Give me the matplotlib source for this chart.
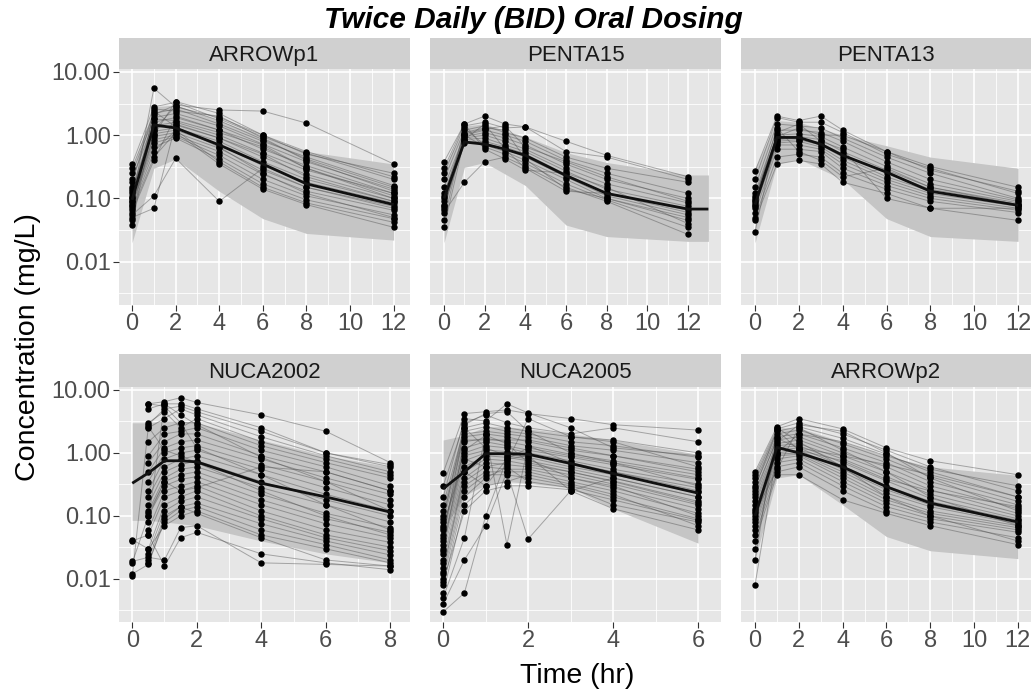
import numpy as np
import matplotlib
matplotlib.use("Agg")
import matplotlib.pyplot as plt
from matplotlib.ticker import FixedLocator, NullFormatter

nan = float("nan")

# ---------------- data ----------------
panel_names = ["ARROWp1", "PENTA15", "PENTA13", "NUCA2002", "NUCA2005", "ARROWp2"]

# ARROWp1
arrowp1_times = [0, 1, 2, 4, 6, 8, 12]
arrowp1_conc = [
    [0.10, 2.10, 3.00, 2.50, 2.40, 1.55, 0.35],
    [0.09, 5.50, 2.80, 1.90, 1.00, 0.50, 0.25],
    [0.35, 2.80, 3.30, 1.80, 0.95, 0.52, 0.20],
    [0.30, 2.20, 2.60, 1.50, 0.80, 0.45, 0.16],
    [0.25, 1.90, 2.20, 1.40, 0.72, 0.38, 0.14],
    [0.20, 1.60, 1.90, 1.20, 0.60, 0.33, 0.12],
    [0.15, 1.40, 1.60, 1.00, 0.52, 0.28, 0.12],
    [0.13, 1.30, 1.45, 0.90, 0.45, 0.24, 0.10],
    [0.12, 1.15, 1.30, 0.80, 0.38, 0.20, 0.09],
    [0.11, 1.05, 1.20, 0.70, 0.33, 0.18, 0.085],
    [0.10, 0.95, 1.10, 0.62, 0.28, 0.15, 0.075],
    [0.09, 0.85, 1.00, 0.55, 0.24, 0.13, 0.065],
    [0.085, 0.75, 0.95, 0.48, 0.20, 0.11, 0.055],
    [0.08, 0.65, 0.90, 0.42, 0.17, 0.095, 0.048],
    [0.07, 0.55, 1.20, 0.38, 0.15, 0.085, 0.042],
    [0.065, 0.45, 1.10, 0.35, 0.14, 0.08, 0.035],
    [0.06, 0.40, 2.00, 1.20, 0.70, 0.30, 0.11],
    [0.055, 0.11, 0.43, 0.09, 0.30, 0.15, 0.07],
    [0.05, 0.07, 1.50, 0.90, 0.50, 0.22, 0.09],
    [0.045, 2.60, 2.40, 2.00, 0.90, 0.40, 0.13],
    [0.038, 1.80, 1.70, 1.10, 0.65, 0.30, 0.10],
    [0.14, 1.20, 2.90, 1.70, 0.85, 0.42, 0.15],
    [0.18, 2.40, 1.35, 0.65, 0.25, 0.12, 0.05],
    [0.075, 1.00, 3.40, 2.20, 1.00, 0.55, 0.22],
]
arrowp1_med_t = [0, 1, 2, 4, 6, 8, 12]
arrowp1_med = [0.095, 1.45, 1.30, 0.70, 0.35, 0.17, 0.08]
arrowp1_band_t = [0, 1, 2, 4, 6, 8, 12]
arrowp1_lo = [0.02, 0.30, 0.42, 0.13, 0.048, 0.028, 0.022]
arrowp1_hi = [0.30, 2.80, 3.00, 1.70, 0.95, 0.55, 0.35]

# PENTA15
penta15_times = [0, 1, 2, 3, 4, 6, 8, 12]
penta15_conc = [
    [0.38, 1.50, 2.00, 1.50, 1.35, 0.80, 0.48, 0.22],
    [0.25, 1.40, 1.60, 1.30, 1.35, 0.55, 0.45, 0.20],
    [0.20, 1.20, 1.40, 1.10, 0.90, 0.45, 0.30, 0.18],
    [0.15, 1.00, 1.20, 1.00, 0.80, 0.40, 0.25, 0.12],
    [0.12, 0.95, 1.10, 0.90, 0.70, 0.35, 0.20, 0.10],
    [0.10, 0.90, 1.00, 0.80, 0.60, 0.30, 0.17, 0.085],
    [0.09, 0.85, 0.90, 0.70, 0.55, 0.27, 0.14, 0.075],
    [0.08, 0.80, 0.80, 0.65, 0.50, 0.24, 0.12, 0.065],
    [0.075, 0.75, 0.75, 0.60, 0.45, 0.22, 0.11, 0.055],
    [0.07, 1.30, 0.70, 0.55, 0.40, 0.20, 0.10, 0.045],
    [0.065, 1.00, 0.65, 0.50, 0.36, 0.17, 0.095, 0.035],
    [0.06, 0.18, 0.38, 0.45, 0.32, 0.15, 0.09, 0.027],
    [0.045, 1.10, 1.30, 1.20, 0.42, 0.14, 0.10, 0.05],
    [0.035, 0.85, 1.50, 0.60, 0.30, 0.13, 0.12, 0.06],
    [0.30, 1.50, 0.60, 0.42, 0.28, 0.25, 0.15, 0.04],
    [0.11, 1.05, 1.25, 1.40, 0.65, 0.38, 0.22, 0.09],
]
penta15_med_t = [0, 1, 2, 3, 4, 6, 8, 12, 13]
penta15_med = [0.10, 0.78, 0.72, 0.60, 0.48, 0.23, 0.12, 0.068, 0.068]
penta15_band_t = [0, 1, 2, 4, 6, 8, 12, 13]
penta15_lo = [0.02, 0.31, 0.37, 0.16, 0.038, 0.025, 0.021, 0.021]
penta15_hi = [0.30, 1.40, 1.50, 0.94, 0.53, 0.37, 0.235, 0.235]

# PENTA13
penta13_times = [0, 1, 2, 3, 4, 6, 8, 12]
penta13_conc = [
    [0.27, 2.00, 1.70, 2.00, 1.20, 0.55, 0.32, 0.15],
    [0.20, 1.90, 1.60, 1.60, 1.10, 0.50, 0.30, 0.12],
    [0.15, 1.50, 1.40, 1.30, 0.90, 0.45, 0.25, 0.10],
    [0.12, 1.20, 1.20, 1.10, 0.80, 0.38, 0.20, 0.095],
    [0.10, 1.00, 1.05, 0.95, 0.65, 0.32, 0.17, 0.09],
    [0.09, 0.90, 0.95, 0.85, 0.55, 0.28, 0.15, 0.085],
    [0.085, 0.85, 0.90, 0.75, 0.50, 0.25, 0.14, 0.08],
    [0.08, 0.80, 0.85, 0.70, 0.45, 0.22, 0.13, 0.078],
    [0.075, 0.75, 0.80, 0.65, 0.40, 0.20, 0.12, 0.075],
    [0.07, 0.70, 0.70, 0.60, 0.35, 0.18, 0.11, 0.07],
    [0.06, 0.60, 0.60, 0.55, 0.30, 0.16, 0.10, 0.065],
    [0.05, 0.45, 0.50, 0.45, 0.25, 0.14, 0.09, 0.06],
    [0.045, 0.35, 0.40, 0.35, 0.18, 0.12, 0.07, 0.045],
    [0.03, 1.10, 1.50, 0.80, 0.60, 0.10, 0.07, 0.07],
    [0.11, 0.95, 1.30, 1.00, 1.00, 0.55, 0.28, 0.13],
    [0.095, 1.30, 0.55, 0.40, 0.22, 0.30, 0.15, 0.08],
]
penta13_med_t = [0, 1, 2, 3, 4, 6, 8, 12]
penta13_med = [0.08, 0.92, 0.92, 0.72, 0.48, 0.26, 0.13, 0.078]
penta13_band_t = [0, 1, 2, 4, 6, 8, 12]
penta13_lo = [0.02, 0.35, 0.42, 0.20, 0.048, 0.025, 0.021]
penta13_hi = [0.30, 1.70, 1.60, 1.00, 0.68, 0.45, 0.30]

# NUCA2002
nuca2002_times = [0, 0.5, 1, 1.5, 2, 4, 6, 8]
nuca2002_conc = [
    [nan, 6.0, 6.5, 7.5, 6.3, 4.0, 2.2, 0.70],
    [nan, 5.0, 6.0, 6.0, 5.0, 2.5, 1.0, 0.65],
    [nan, 2.8, 5.0, 5.5, 4.5, 2.2, 1.0, 0.60],
    [nan, 2.5, 3.5, 5.0, 4.0, 1.8, 0.90, 0.50],
    [nan, 3.0, 4.5, 2.5, 3.5, 1.5, 0.80, 0.45],
    [nan, 1.5, 2.5, 3.0, 3.0, 1.3, 0.70, 0.40],
    [nan, 0.9, 2.0, 2.2, 2.5, 1.1, 0.60, 0.30],
    [nan, 0.7, 1.5, 2.0, 2.0, 0.90, 0.50, 0.25],
    [nan, 0.5, 1.2, 1.5, 1.6, 0.80, 0.40, 0.22],
    [nan, 0.35, 1.0, 1.2, 1.3, 0.65, 0.35, 0.18],
    [nan, 0.25, 0.80, 1.0, 1.1, 0.55, 0.28, 0.15],
    [nan, 0.20, 0.60, 0.80, 0.90, 0.45, 0.22, 0.12],
    [nan, 0.15, 0.50, 0.65, 0.75, 0.35, 0.18, 0.10],
    [nan, 0.12, 0.40, 0.55, 0.60, 0.28, 0.15, 0.08],
    [nan, 0.11, 0.35, 0.45, 0.50, 0.22, 0.11, 0.065],
    [nan, 0.10, 0.30, 0.38, 0.42, 0.18, 0.09, 0.055],
    [nan, 0.06, 0.25, 0.30, 0.35, 0.15, 0.075, 0.045],
    [nan, 0.05, 0.20, 0.25, 0.30, 0.12, 0.06, 0.038],
    [nan, 0.03, 0.15, 0.20, 0.25, 0.10, 0.05, 0.032],
    [nan, 0.025, 0.12, 0.17, 0.20, 0.09, 0.045, 0.028],
    [nan, 0.02, 0.10, 0.14, 0.16, 0.075, 0.04, 0.024],
    [nan, 0.018, 0.08, 0.12, 0.14, 0.06, 0.035, 0.02],
    [0.042, 0.03, 0.07, 0.10, 0.12, 0.05, 0.03, 0.018],
    [0.040, 0.05, 0.016, 0.045, 0.055, 0.025, 0.018, 0.014],
    [0.019, 0.022, 0.020, 0.065, 0.07, 0.018, 0.017, 0.016],
    [0.018, 0.10, 0.35, 0.25, 0.28, 0.60, 0.50, 0.25],
    [0.012, 0.017, 0.09, 0.14, 0.11, 0.045, 0.02, 0.016],
    [0.011, 2.6, 1.1, 0.9, 0.7, 0.25, 0.10, 0.05],
    [nan, 6.0, 5.5, 3.0, 1.2, 0.45, 0.15, 0.06],
    [nan, 0.08, 6.0, 4.0, 2.8, 0.85, 0.35, 0.12],
]
nuca2002_med_t = [0, 0.5, 1, 1.5, 2, 4, 6, 8]
nuca2002_med = [0.33, 0.48, 0.75, 0.75, 0.72, 0.33, 0.20, 0.115]
nuca2002_band_t = [0, 0.5, 1, 1.5, 2, 4, 6, 8]
nuca2002_lo = [0.085, 0.085, 0.08, 0.075, 0.07, 0.04, 0.025, 0.018]
nuca2002_hi = [3.0, 3.0, 3.2, 3.2, 3.0, 1.6, 0.9, 0.6]

# NUCA2005
nuca2005_times = [0, 0.5, 1, 1.5, 2, 3, 4, 6]
nuca2005_conc = [
    [0.48, 4.2, 4.5, 4.8, 4.2, 3.5, 2.8, 2.3],
    [0.30, 3.0, 4.0, 3.0, 2.5, 2.0, 2.5, 1.5],
    [0.15, 2.5, 3.0, 2.5, 2.2, 1.8, 1.6, 1.0],
    [0.12, 2.2, 2.6, 2.2, 2.0, 1.5, 1.3, 0.85],
    [0.10, 2.0, 2.2, 2.0, 1.8, 1.3, 1.1, 0.70],
    [0.08, 1.8, 2.0, 1.8, 1.5, 1.1, 0.90, 0.55],
    [0.06, 1.5, 1.7, 1.5, 1.3, 0.95, 0.75, 0.45],
    [0.05, 1.2, 1.5, 1.3, 1.1, 0.85, 0.65, 0.38],
    [0.04, 1.0, 1.3, 1.2, 1.0, 0.75, 0.55, 0.32],
    [0.035, 0.9, 1.1, 1.05, 0.95, 0.65, 0.50, 0.28],
    [0.03, 0.75, 1.0, 0.95, 0.85, 0.60, 0.45, 0.24],
    [0.025, 0.6, 0.9, 0.85, 0.75, 0.55, 0.40, 0.20],
    [0.02, 0.5, 0.8, 0.75, 0.65, 0.50, 0.36, 0.17],
    [0.018, 0.4, 0.7, 0.65, 0.60, 0.45, 0.32, 0.15],
    [0.015, 0.35, 0.6, 0.55, 0.55, 0.40, 0.28, 0.13],
    [0.012, 0.3, 0.5, 0.50, 0.50, 0.35, 0.25, 0.11],
    [0.01, 0.25, 0.45, 0.45, 0.40, 0.30, 0.20, 0.09],
    [0.008, 0.2, 0.4, 0.60, 0.35, 0.28, 0.15, 0.08],
    [0.006, 0.15, 0.3, 0.80, 0.90, 0.25, 0.13, 0.06],
    [0.005, 0.045, 2.0, 0.035, 1.3, 0.70, 0.50, 0.25],
    [0.004, 0.02, 0.07, 0.5, 0.043, 0.25, 0.40, 0.20],
    [0.003, 0.006, 0.1, 0.8, 1.2, 0.9, 0.7, 0.4],
    [0.2, 3.5, 3.2, 6.0, 4.3, 2.5, 1.2, 0.9],
    [0.09, 2.8, 4.2, 4.5, 2.2, 1.0, 0.7, 0.3],
    [0.07, 0.8, 0.6, 0.7, 3.5, 1.8, 1.5, 0.6],
    [0.045, 2.5, 1.2, 0.9, 0.8, 0.4, 0.3, 0.1],
    [0.028, 1.6, 1.6, 1.6, 1.6, 1.2, 0.9, 0.5],
    [0.013, 0.5, 0.3, 0.35, 0.45, 0.32, 0.22, 0.07],
    [0.009, 0.12, 0.25, 0.3, 0.3, 0.26, 0.18, 0.085],
    [0.065, 1.1, 1.9, 1.4, 0.7, 0.5, 0.35, 0.16],
]
nuca2005_med_t = [0, 0.5, 1, 1.5, 2, 3, 4, 6]
nuca2005_med = [0.27, 0.50, 0.97, 0.97, 0.95, 0.68, 0.47, 0.23]
nuca2005_band_t = [0, 0.5, 1, 1.5, 2, 3, 4, 6]
nuca2005_lo = [0.06, 0.21, 0.31, 0.35, 0.33, 0.28, 0.13, 0.037]
nuca2005_hi = [1.6, 1.9, 2.6, 2.6, 2.4, 2.0, 1.6, 0.95]

# ARROWp2
arrowp2_times = [0, 1, 2, 4, 6, 8, 12]
arrowp2_conc = [
    [0.50, 2.60, 3.50, 2.40, 1.20, 0.75, 0.45],
    [0.45, 2.40, 3.00, 2.00, 1.10, 0.60, 0.25],
    [0.40, 2.20, 2.60, 1.70, 0.95, 0.50, 0.20],
    [0.35, 2.00, 2.30, 1.40, 0.80, 0.42, 0.17],
    [0.30, 1.80, 2.00, 1.20, 0.70, 0.35, 0.15],
    [0.25, 1.60, 1.80, 1.00, 0.60, 0.30, 0.13],
    [0.20, 1.40, 1.60, 0.90, 0.50, 0.26, 0.11],
    [0.17, 1.30, 1.40, 0.80, 0.42, 0.22, 0.10],
    [0.15, 1.20, 1.30, 0.70, 0.36, 0.19, 0.09],
    [0.13, 1.10, 1.20, 0.62, 0.30, 0.17, 0.085],
    [0.12, 1.00, 1.10, 0.55, 0.26, 0.15, 0.08],
    [0.10, 0.95, 1.00, 0.50, 0.23, 0.14, 0.075],
    [0.09, 0.90, 0.95, 0.45, 0.20, 0.12, 0.07],
    [0.08, 0.80, 0.90, 0.40, 0.18, 0.11, 0.065],
    [0.07, 0.70, 0.80, 0.35, 0.16, 0.10, 0.06],
    [0.06, 0.60, 0.70, 0.30, 0.14, 0.09, 0.055],
    [0.05, 0.50, 0.60, 0.25, 0.12, 0.08, 0.045],
    [0.04, 0.45, 0.45, 0.18, 0.11, 0.07, 0.035],
    [0.03, 1.50, 2.80, 2.20, 1.00, 0.40, 0.12],
    [0.02, 2.50, 1.50, 0.60, 0.20, 0.10, 0.04],
    [0.008, 1.00, 2.00, 1.50, 0.90, 0.55, 0.30],
    [0.22, 1.70, 1.20, 0.90, 0.65, 0.45, 0.20],
    [0.11, 0.55, 2.50, 1.10, 0.50, 0.20, 0.07],
    [0.28, 2.30, 1.10, 0.75, 0.38, 0.25, 0.14],
]
arrowp2_med_t = [0, 1, 2, 4, 6, 8, 12]
arrowp2_med = [0.10, 1.22, 1.00, 0.60, 0.29, 0.16, 0.08]
arrowp2_band_t = [0, 1, 2, 4, 6, 8, 12]
arrowp2_lo = [0.02, 0.40, 0.45, 0.15, 0.047, 0.028, 0.021]
arrowp2_hi = [0.45, 2.50, 2.50, 1.50, 0.90, 0.60, 0.44]

y_ticks = [0.01, 0.1, 1, 10]
y_ticklabels = ["0.01", "0.10", "1.00", "10.00"]
x_ticks_12 = [0, 2, 4, 6, 8, 10, 12]
x_ticks_8 = [0, 2, 4, 6, 8]
x_ticks_6 = [0, 2, 4, 6]

title = "Twice Daily (BID) Oral Dosing"
xlabel = "Time (hr)"
ylabel = "Concentration (mg/L)"

# ---------------- layout / style ----------------
W, H = 1034, 696
plt.rcParams["font.family"] = ["Liberation Sans", "DejaVu Sans"]

panels = [
    (arrowp1_times, arrowp1_conc, arrowp1_med_t, arrowp1_med, arrowp1_band_t, arrowp1_lo, arrowp1_hi, x_ticks_12),
    (penta15_times, penta15_conc, penta15_med_t, penta15_med, penta15_band_t, penta15_lo, penta15_hi, x_ticks_12),
    (penta13_times, penta13_conc, penta13_med_t, penta13_med, penta13_band_t, penta13_lo, penta13_hi, x_ticks_12),
    (nuca2002_times, nuca2002_conc, nuca2002_med_t, nuca2002_med, nuca2002_band_t, nuca2002_lo, nuca2002_hi, x_ticks_8),
    (nuca2005_times, nuca2005_conc, nuca2005_med_t, nuca2005_med, nuca2005_band_t, nuca2005_lo, nuca2005_hi, x_ticks_6),
    (arrowp2_times, arrowp2_conc, arrowp2_med_t, arrowp2_med, arrowp2_band_t, arrowp2_lo, arrowp2_hi, x_ticks_12),
]
xlims = [(-0.6, 12.75), (-0.69, 13.62), (-0.64, 12.59), (-0.41, 8.61), (-0.31, 6.54), (-0.64, 12.6)]
col_x = [(119, 410), (430, 721), (741, 1031)]
row_y = [((38, 69), (69, 305)), ((354, 387), (387, 622))]
ylim = (10 ** -2.683, 10 ** 1.045)

PANEL_BG = "#E6E6E6"
STRIP_BG = "#D0D0D0"
BAND = "#C5C5C5"

fig = plt.figure(figsize=(W / 100, H / 100), dpi=100)


def fbox(x0, x1, y0, y1):
    return [x0 / W, 1 - y1 / H, (x1 - x0) / W, (y1 - y0) / H]


for i, (name, p) in enumerate(zip(panel_names, panels)):
    times, conc, med_t, med, band_t, lo, hi, xt = p
    r, c = divmod(i, 3)
    x0, x1 = col_x[c]
    (sy0, sy1), (py0, py1) = row_y[r]
    ax = fig.add_axes(fbox(x0, x1, py0, py1))
    ax.set_facecolor(PANEL_BG)
    ax.set_yscale("log")
    ax.set_xlim(*xlims[i])
    ax.set_ylim(*ylim)
    for s in ax.spines.values():
        s.set_visible(False)
    # grid
    ax.yaxis.set_major_locator(FixedLocator(y_ticks))
    ax.yaxis.set_minor_locator(FixedLocator([10 ** -2.5, 10 ** -1.5, 10 ** -0.5, 10 ** 0.5]))
    ax.yaxis.set_minor_formatter(NullFormatter())
    ax.xaxis.set_major_locator(FixedLocator(xt))
    xminor = [v + (xt[1] - xt[0]) / 2 for v in xt[:-1]] + [xt[-1] + (xt[1] - xt[0]) / 2]
    ax.xaxis.set_minor_locator(FixedLocator(xminor))
    ax.grid(True, which="major", color="white", lw=1.2)
    ax.grid(True, which="minor", color="white", lw=0.6)
    ax.set_axisbelow(True)
    ax.tick_params(which="minor", length=0)
    ax.tick_params(which="major", length=4, width=0.8, color="#333333",
                   labelsize=17, labelcolor="#4D4D4D", pad=2)
    ax.set_xticklabels([str(v) for v in xt])
    if c == 0:
        ax.set_yticklabels(y_ticklabels)
    else:
        ax.tick_params(axis="y", left=False, labelleft=False)

    # band
    ax.fill_between(band_t, lo, hi, color=BAND, lw=0, zorder=1)
    # individuals
    for row in conc:
        ax.plot(times, row, color="#505050", lw=0.7, alpha=0.45, zorder=2)
        ax.plot(times, row, ls="none", marker="o", ms=3.6, color="black", zorder=3)
    # median
    ax.plot(med_t, med, color="#111111", lw=2.0, zorder=4, solid_capstyle="butt")

    # strip
    sax = fig.add_axes(fbox(x0, x1, sy0, sy1))
    sax.set_facecolor(STRIP_BG)
    sax.set_xticks([])
    sax.set_yticks([])
    for s in sax.spines.values():
        s.set_visible(False)
    sax.text(0.5, 0.45, name, ha="center", va="center", fontsize=16, color="#1A1A1A",
             transform=sax.transAxes)

fig.text(533 / W, 1 - 28 / H, title, ha="center", va="baseline", fontsize=21.5,
         fontweight="bold", fontstyle="italic", color="black")
fig.text(577 / W, 1 - 676 / H, xlabel, ha="center", va="center", fontsize=20.5, color="black")
fig.text(28 / W, 1 - 347 / H, ylabel, ha="center", va="center", rotation=90,
         fontsize=20.5, color="black")

fig.savefig("out.png", dpi=100, facecolor="white")
